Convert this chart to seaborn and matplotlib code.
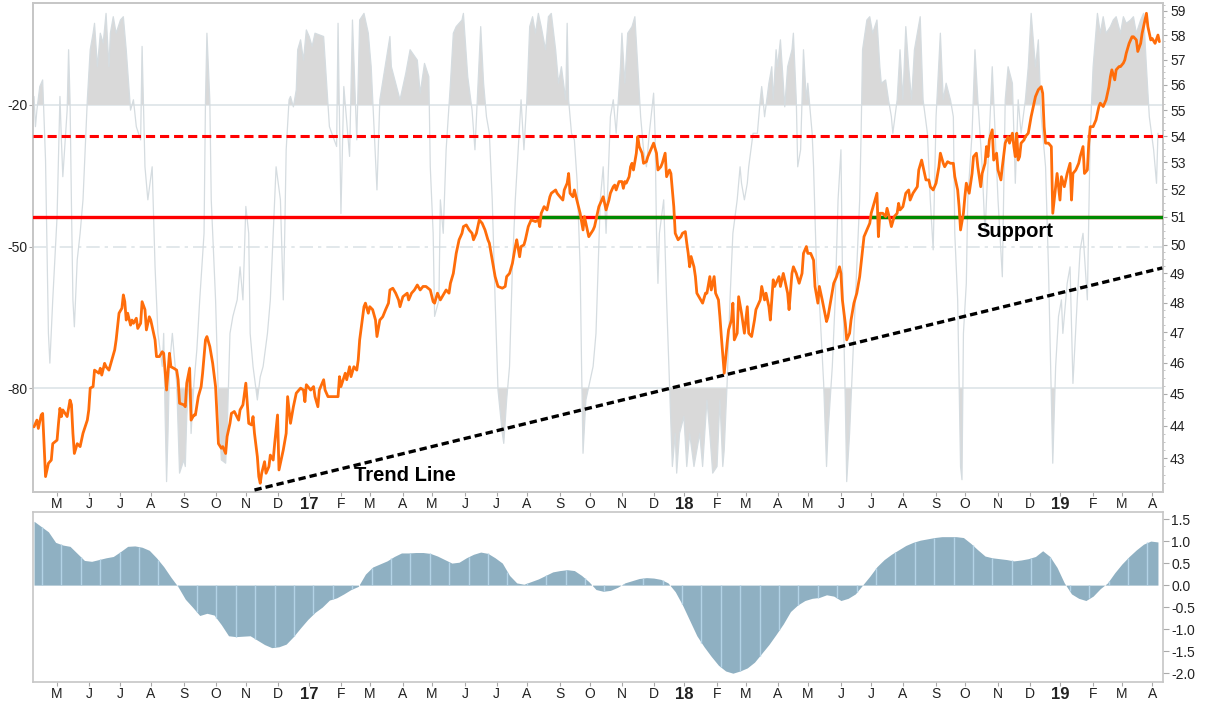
import numpy as np
import pandas as pd
import matplotlib
matplotlib.use("Agg")
import matplotlib.pyplot as plt
from matplotlib.ticker import FixedLocator, FixedFormatter, NullFormatter
import seaborn as sns

# ---- data ----
# trading sessions are counted from the first session, 2016-04-08
first_session = "2016-04-08"

# (session number, close)
price_points = [
    (0, 43.96), (2, 44.17), (3, 43.91), (5, 44.33), (6, 44.38), (8, 42.44), (10, 42.84), (12, 42.94), (13, 43.44), (16, 43.55),
    (17, 44.07), (18, 44.54), (19, 44.28), (20, 44.49), (23, 44.28), (25, 44.80), (26, 44.65), (27, 43.76), (28, 43.14), (30, 43.44),
    (32, 43.35), (34, 43.76), (37, 44.17), (38, 44.49), (39, 45.18), (41, 45.23), (42, 45.76), (45, 45.66), (46, 45.82), (47, 45.60),
    (49, 45.98), (50, 45.87), (52, 45.76), (54, 46.09), (56, 46.42), (57, 46.75), (59, 47.64), (61, 47.81), (62, 48.26), (63, 48.03),
    (64, 47.41), (65, 47.64), (67, 47.24), (68, 47.41), (69, 47.30), (71, 47.47), (72, 47.13), (74, 47.30), (75, 48.03), (77, 47.76),
    (78, 47.08), (80, 47.52), (81, 47.41), (83, 46.97), (84, 46.75), (85, 46.20), (87, 46.20), (89, 46.36), (90, 46.31), (92, 45.12),
    (94, 46.31), (95, 45.87), (97, 45.82), (99, 45.76), (100, 45.45), (101, 44.70), (104, 44.65), (105, 44.59), (106, 45.34), (108, 45.82),
    (109, 44.17), (111, 44.33), (112, 44.33), (114, 44.91), (116, 45.23), (117, 45.66), (119, 46.75), (120, 46.86), (122, 46.53), (124, 45.98),
    (126, 45.23), (128, 43.44), (130, 43.30), (131, 43.35), (133, 43.14), (134, 43.66), (136, 44.07), (137, 44.38), (139, 44.44), (142, 44.17),
    (143, 44.49), (145, 44.65), (147, 45.34), (149, 44.07), (151, 44.02), (152, 44.28), (153, 43.76), (155, 43.04), (156, 42.44), (157, 42.24),
    (158, 42.54), (160, 42.89), (161, 42.54), (163, 42.74), (164, 43.09), (166, 42.94), (167, 43.44), (169, 44.33), (170, 42.64), (172, 43.04),
    (173, 43.25), (175, 43.76), (176, 44.91), (178, 44.07), (180, 44.59), (182, 45.02), (185, 45.18), (187, 45.12), (188, 44.75), (189, 45.29),
    (192, 45.12), (194, 45.23), (195, 44.91), (197, 44.59), (198, 45.12), (201, 45.45), (202, 45.12), (204, 44.91), (208, 44.91), (211, 44.91),
    (212, 45.55), (213, 45.23), (216, 45.66), (217, 45.45), (219, 45.87), (220, 45.55), (222, 45.87), (224, 45.76), (225, 46.09), (226, 46.75),
    (229, 47.86), (230, 47.98), (232, 47.64), (233, 47.86), (235, 47.76), (237, 47.41), (238, 46.86), (240, 47.41), (242, 47.52), (244, 47.76),
    (246, 47.98), (247, 48.43), (249, 48.49), (251, 48.32), (253, 48.09), (254, 47.86), (256, 48.20), (259, 48.32), (260, 48.09), (262, 48.32),
    (264, 48.43), (266, 48.60), (268, 48.43), (270, 48.55), (272, 48.55), (275, 48.43), (277, 48.03), (278, 47.98), (280, 48.32), (282, 48.09),
    (284, 48.26), (286, 48.43), (288, 48.32), (289, 48.66), (291, 49.00), (293, 49.70), (295, 50.18), (297, 50.41), (298, 50.65), (300, 50.71),
    (302, 50.53), (304, 50.41), (305, 50.18), (307, 50.41), (309, 50.89), (311, 50.77), (313, 50.53), (315, 50.18), (316, 50.06), (318, 49.46),
    (320, 48.89), (322, 48.55), (325, 48.49), (327, 48.55), (328, 48.89), (330, 49.00), (332, 49.35), (334, 49.94), (335, 50.18), (337, 49.58),
    (338, 49.94), (340, 50.00), (341, 50.18), (343, 50.65), (345, 50.89), (348, 50.83), (350, 50.89), (351, 50.65), (352, 51.13), (354, 51.37),
    (356, 51.25), (358, 51.73), (359, 51.86), (362, 51.98), (363, 51.86), (365, 51.73), (367, 51.61), (368, 51.98), (370, 52.23), (371, 52.59),
    (372, 51.86), (374, 51.73), (375, 51.98), (377, 51.55), (379, 51.13), (381, 50.53), (382, 51.01), (384, 50.53), (385, 50.29), (388, 50.53),
    (389, 50.65), (390, 50.89), (392, 51.37), (394, 51.61), (395, 51.73), (397, 51.25), (399, 51.61), (400, 51.86), (402, 52.10), (403, 52.16),
    (404, 51.98), (406, 52.29), (408, 52.29), (409, 52.04), (410, 52.29), (411, 52.23), (413, 52.47), (414, 52.84), (415, 52.97), (416, 52.72),
    (418, 53.35), (419, 53.98), (420, 53.60), (422, 53.35), (423, 52.97), (425, 53.03), (426, 53.22), (429, 53.60), (430, 53.73), (432, 53.35),
    (433, 52.72), (435, 52.84), (436, 52.97), (438, 53.35), (439, 52.47), (441, 52.72), (442, 52.59), (444, 51.37), (445, 50.41), (447, 50.18),
    (449, 50.29), (450, 50.41), (452, 50.47), (453, 50.06), (454, 49.70), (455, 49.23), (456, 49.59), (458, 49.23), (459, 48.89), (460, 48.32),
    (462, 48.15), (464, 47.98), (466, 48.32), (467, 48.32), (469, 48.89), (470, 48.43), (472, 48.89), (473, 48.32), (475, 48.09), (476, 47.52),
    (477, 46.86), (479, 45.66), (481, 46.64), (482, 47.08), (484, 47.41), (485, 47.98), (486, 46.75), (488, 46.97), (489, 48.20), (491, 47.64),
    (493, 46.97), (495, 47.86), (496, 46.97), (498, 46.86), (500, 47.41), (501, 47.76), (504, 48.09), (505, 48.55), (507, 48.09), (508, 48.32),
    (510, 47.86), (511, 47.41), (513, 48.78), (514, 48.55), (517, 48.89), (518, 48.55), (520, 49.00), (521, 48.78), (523, 48.32), (524, 47.76),
    (526, 49.00), (527, 49.23), (529, 49.00), (531, 48.66), (533, 49.00), (534, 49.70), (536, 49.94), (537, 49.70), (539, 49.70), (541, 49.46),
    (542, 48.55), (544, 47.98), (545, 48.55), (547, 48.09), (550, 47.36), (551, 47.52), (553, 48.09), (555, 48.66), (557, 48.89), (559, 49.23),
    (560, 49.00), (561, 48.09), (563, 47.30), (564, 46.75), (566, 46.97), (567, 47.41), (569, 47.98), (571, 48.32), (573, 48.89), (574, 49.35),
    (576, 50.29), (578, 50.53), (580, 50.77), (581, 51.13), (583, 51.49), (585, 51.86), (586, 50.29), (587, 51.13), (589, 51.13), (591, 51.01),
    (592, 51.31), (594, 50.89), (595, 50.65), (597, 51.01), (599, 51.13), (600, 51.49), (601, 51.25), (603, 51.37), (605, 51.86), (607, 51.98),
    (608, 51.61), (610, 51.86), (613, 52.10), (614, 52.72), (616, 53.09), (617, 52.84), (619, 52.35), (621, 52.35), (622, 52.10), (624, 51.98),
    (626, 52.23), (628, 52.84), (629, 53.35), (631, 52.97), (632, 52.84), (634, 53.03), (636, 52.97), (638, 52.97), (639, 52.47), (641, 51.98),
    (642, 51.37), (643, 50.53), (645, 51.13), (646, 51.73), (647, 52.23), (649, 51.86), (651, 52.59), (652, 53.22), (654, 53.35), (655, 52.84),
    (657, 52.10), (658, 52.59), (660, 52.97), (661, 53.60), (662, 53.22), (663, 53.85), (665, 54.24), (666, 53.09), (668, 53.35), (669, 52.72),
    (671, 52.35), (672, 52.84), (674, 53.73), (676, 53.98), (677, 53.73), (679, 54.11), (680, 53.60), (681, 53.22), (682, 54.11), (683, 53.09),
    (684, 53.22), (685, 53.73), (687, 53.85), (688, 53.98), (690, 54.11), (692, 54.75), (694, 55.27), (695, 55.53), (697, 55.80), (699, 55.92),
    (700, 55.66), (701, 54.36), (702, 53.73), (704, 53.73), (706, 53.60), (707, 51.13), (709, 52.10), (710, 52.59), (712, 51.61), (713, 52.47),
    (715, 52.10), (717, 52.59), (719, 52.97), (720, 51.61), (721, 52.59), (723, 52.72), (725, 52.97), (726, 53.22), (728, 53.60), (729, 52.59),
    (731, 52.72), (732, 53.73), (733, 54.36), (735, 54.36), (737, 54.62), (739, 55.14), (740, 55.27), (742, 55.14), (744, 55.40), (746, 55.92),
    (747, 56.32), (748, 56.59), (750, 56.19), (751, 56.59), (753, 56.72), (754, 56.72), (756, 56.86), (757, 56.99), (758, 57.26), (760, 57.66),
    (762, 57.93), (763, 57.93), (765, 57.80), (766, 57.33), (768, 57.66), (769, 58.07), (771, 58.62), (772, 58.90), (773, 58.35), (775, 57.80),
    (776, 57.86), (778, 57.66), (780, 58.00), (781, 57.73),
]

# (session number, Williams %R)
williams_points = [
    (0, -18.2), (1, -24.6), (2, -21.1), (4, -16.1), (6, -14.7), (8, -31.7), (10, -68.4), (11, -74.7), (13, -61.3), (16, -43.7),
    (18, -18.2), (19, -27.4), (20, -35.2), (22, -26.0), (23, -21.1), (24, -8.3), (25, -18.9), (26, -41.5), (27, -61.3), (28, -67.0),
    (30, -52.8), (32, -47.2), (34, -40.1), (37, -18.9), (39, -8.3), (41, -4.8), (42, -2.7), (44, -11.9), (46, -4.8), (48, -6.9),
    (50, -0.6), (52, -11.9), (53, -4.8), (55, -1.3), (57, -4.8), (60, -2.0), (62, -1.3), (64, -8.3), (67, -21.1), (69, -18.9),
    (71, -24.6), (74, -27.4), (75, -7.6), (76, -20.4), (77, -33.1), (79, -40.1), (82, -33.1), (83, -43.7), (84, -54.3), (86, -68.4),
    (89, -75.4), (90, -68.4), (91, -86.0), (92, -99.8), (93, -89.6), (94, -75.4), (96, -68.4), (97, -71.9), (99, -79.0), (101, -98.0),
    (104, -95.2), (105, -96.6), (106, -86.0), (108, -75.4), (109, -89.6), (111, -79.0), (113, -71.9), (115, -61.3), (118, -47.2), (119, -18.9),
    (120, -4.8), (122, -18.9), (123, -40.1), (126, -61.3), (128, -82.5), (130, -95.2), (133, -95.9), (134, -89.6), (136, -68.4), (138, -64.8),
    (141, -61.3), (143, -54.3), (145, -61.3), (147, -41.5), (149, -47.2), (150, -68.4), (152, -75.4), (155, -82.5), (157, -77.6), (159, -75.4),
    (162, -68.4), (164, -61.3), (166, -47.2), (168, -33.1), (171, -40.1), (173, -61.3), (174, -47.2), (175, -29.5), (177, -18.9), (178, -18.2),
    (180, -20.4), (182, -16.8), (183, -8.3), (185, -6.2), (187, -10.5), (189, -4.1), (191, -5.5), (193, -7.6), (195, -4.8), (201, -5.5),
    (205, -24.6), (210, -28.8), (211, -2.7), (213, -43.0), (215, -16.1), (219, -30.9), (221, -2.0), (224, -27.4), (226, -2.0), (229, -0.6),
    (232, -4.8), (234, -11.9), (238, -38.0), (240, -18.9), (247, -5.5), (248, -11.9), (251, -15.4), (254, -18.9), (258, -13.3), (261, -8.3),
    (266, -10.5), (268, -17.5), (271, -11.2), (274, -14.0), (275, -33.1), (277, -47.2), (278, -64.8), (281, -61.3), (282, -40.1), (284, -47.2),
    (286, -29.5), (289, -15.4), (291, -4.8), (293, -3.4), (297, -2.0), (298, -0.6), (301, -14.0), (304, -21.1), (306, -29.5), (310, -3.4),
    (312, -15.4), (314, -22.5), (316, -26.0), (318, -40.1), (320, -61.3), (322, -80.4), (325, -89.6), (326, -91.7), (328, -82.5), (330, -75.4),
    (332, -54.3), (334, -40.1), (336, -29.5), (338, -18.9), (340, -29.5), (342, -18.9), (344, -3.4), (346, -1.3), (348, -4.8), (350, -0.6),
    (352, -3.4), (355, -8.3), (357, -1.3), (359, -0.6), (362, -8.3), (364, -15.4), (366, -11.9), (369, -18.9), (370, -2.7), (371, -18.9),
    (373, -26.0), (375, -27.4), (377, -36.6), (379, -54.3), (380, -75.4), (381, -93.8), (383, -82.5), (385, -79.7), (388, -75.4), (390, -68.4),
    (393, -40.1), (395, -33.1), (397, -47.2), (400, -22.5), (402, -18.9), (404, -26.0), (407, -11.9), (408, -4.8), (410, -15.4), (412, -4.8),
    (415, -3.4), (417, -1.3), (419, -11.9), (421, -22.5), (423, -29.5), (425, -33.1), (427, -26.0), (430, -17.5), (431, -26.0), (432, -47.2),
    (433, -57.8), (434, -47.2), (437, -40.1), (439, -61.3), (441, -79.0), (443, -96.6), (445, -89.6), (446, -98.0), (448, -89.6), (451, -86.0),
    (453, -96.6), (455, -89.6), (458, -96.6), (460, -93.1), (462, -89.6), (464, -96.6), (467, -82.5), (469, -89.6), (471, -98.0), (474, -96.6),
    (476, -82.5), (478, -96.6), (479, -93.1), (481, -79.0), (483, -61.3), (485, -47.2), (488, -40.1), (490, -33.1), (491, -36.6), (493, -40.1),
    (495, -36.6), (496, -33.1), (499, -26.0), (502, -26.0), (504, -18.9), (505, -16.1), (506, -18.9), (507, -22.5), (510, -15.4), (512, -11.9),
    (513, -18.9), (515, -8.3), (516, -11.9), (518, -6.2), (520, -15.4), (521, -20.4), (523, -11.9), (526, -8.3), (527, -4.8), (529, -18.9),
    (530, -33.1), (532, -29.5), (534, -8.3), (536, -18.9), (537, -15.4), (540, -26.0), (541, -33.1), (543, -54.3), (545, -61.3), (548, -79.0),
    (550, -96.6), (551, -89.6), (554, -75.4), (556, -61.3), (558, -40.1), (560, -29.5), (561, -54.3), (563, -82.5), (564, -99.8), (566, -89.6),
    (567, -82.5), (569, -68.4), (571, -54.3), (573, -40.1), (574, -26.0), (575, -8.3), (578, -2.0), (580, -1.3), (582, -4.8), (585, -2.0),
    (587, -11.9), (588, -15.4), (591, -14.7), (593, -18.9), (595, -22.5), (596, -26.0), (599, -18.9), (601, -8.3), (603, -18.9), (605, -3.4),
    (607, -11.9), (609, -18.9), (611, -8.3), (615, -1.3), (617, -18.9), (620, -26.0), (622, -40.1), (624, -50.7), (626, -22.5), (629, -4.8),
    (631, -18.9), (633, -15.4), (636, -18.9), (638, -22.5), (639, -47.2), (641, -61.3), (643, -96.6), (644, -99.4), (645, -68.4), (647, -57.8),
    (648, -40.1), (651, -26.0), (653, -8.3), (655, -18.9), (658, -33.1), (660, -47.2), (662, -33.1), (665, -11.9), (667, -26.0), (669, -40.1),
    (672, -56.4), (674, -18.9), (676, -11.9), (679, -15.4), (681, -36.6), (683, -18.9), (685, -26.0), (688, -18.9), (690, -11.9), (692, -0.6),
    (695, -11.9), (697, -6.2), (699, -22.5), (702, -33.1), (704, -54.3), (706, -82.5), (707, -95.9), (709, -75.4), (711, -64.8), (713, -61.3),
    (714, -68.4), (717, -57.8), (719, -54.3), (721, -79.0), (724, -61.3), (726, -50.7), (728, -47.2), (731, -61.3), (733, -26.0), (735, -11.9),
    (738, -0.6), (740, -4.8), (742, -1.3), (744, -4.8), (747, -3.4), (749, -2.0), (751, -1.3), (754, -4.8), (756, -1.3), (758, -2.7),
    (761, -2.0), (763, -1.3), (765, -4.8), (768, -2.0), (770, -0.6), (772, -11.9), (774, -22.5), (777, -29.5), (779, -36.6), (780, -26.0),
]

# weekly (Friday) histogram readings from 2016-04-08
histogram = [
    1.45, 1.33, 1.21, 0.97, 0.91, 0.88, 0.72, 0.56, 0.54, 0.58,
    0.62, 0.65, 0.76, 0.88, 0.89, 0.86, 0.79, 0.62, 0.42, 0.18,
    -0.04, -0.32, -0.50, -0.69, -0.64, -0.68, -0.90, -1.15, -1.17, -1.16,
    -1.15, -1.25, -1.35, -1.42, -1.40, -1.34, -1.17, -0.97, -0.78, -0.62,
    -0.50, -0.34, -0.29, -0.20, -0.10, -0.03, 0.25, 0.41, 0.48, 0.55,
    0.65, 0.73, 0.73, 0.74, 0.74, 0.72, 0.66, 0.58, 0.50, 0.52,
    0.62, 0.70, 0.75, 0.72, 0.62, 0.50, 0.22, 0.05, 0.02, 0.08,
    0.14, 0.22, 0.30, 0.33, 0.35, 0.33, 0.22, 0.08, -0.10, -0.14,
    -0.12, -0.05, 0.05, 0.10, 0.15, 0.17, 0.16, 0.13, 0.05, -0.15,
    -0.45, -0.80, -1.15, -1.40, -1.62, -1.82, -1.95, -2.00, -1.95, -1.88,
    -1.75, -1.55, -1.35, -1.12, -0.88, -0.60, -0.45, -0.35, -0.30, -0.28,
    -0.22, -0.25, -0.35, -0.30, -0.20, 0.00, 0.20, 0.42, 0.58, 0.70,
    0.80, 0.90, 0.97, 1.02, 1.05, 1.08, 1.10, 1.10, 1.10, 1.08,
    0.95, 0.80, 0.66, 0.62, 0.60, 0.58, 0.55, 0.57, 0.60, 0.65,
    0.78, 0.65, 0.40, 0.05, -0.20, -0.30, -0.35, -0.25, -0.08, 0.05,
    0.28, 0.48, 0.65, 0.80, 0.93, 1.00, 0.98,
]

support_level = 51
resistance_level = 54
trend_dates = ["2016-11-09", "2019-04-10"]
trend_values = [42.04, 49.19]

osc_ticks = [-20, -50, -80]
price_ticks = list(range(43, 60))
hist_ticks = [1.5, 1.0, 0.5, 0.0, -0.5, -1.0, -1.5, -2.0]

# ---- style ----
sns.set_style("white")
plt.rcParams["font.family"] = ["Liberation Sans", "DejaVu Sans"]

ORANGE = "#ff6d0a"
OSC_LINE = "#d5dce0"
OSC_FILL = "#d9d9d9"
GRID = "#dde4e7"
SPINE = "#c6c6c6"
AREA = "#8fb0c2"
AREA_LINE = "#b3d3e6"
TXT = "#222222"

sessions = pd.bdate_range(first_session, periods=800)

px = np.array([p[0] for p in price_points], dtype=float)
py = np.array([p[1] for p in price_points])
wx = np.array([p[0] for p in williams_points], dtype=float)
wy = np.array([p[1] for p in williams_points])
week_dates = pd.date_range(first_session, periods=len(histogram), freq="W-FRI")
hx = sessions.get_indexer(week_dates).astype(float)
hy = np.array(histogram)

def session_pos(d):
    return float(sessions.searchsorted(pd.Timestamp(d)))

x_min, x_max = -0.7, 783.5

fig = plt.figure(figsize=(12.17, 7.02), dpi=100)
W, H = 1217, 702
ax = fig.add_axes([33 / W, 210 / H, 1130 / W, 489 / H])
ax_b = fig.add_axes([33 / W, 20 / H, 1130 / W, 170 / H], sharex=ax)
ax_r = ax.twinx()

# ---- oscillator (left scale) ----
ax.axhline(-20, color=GRID, lw=1.2, zorder=0)
ax.axhline(-80, color=GRID, lw=1.2, zorder=0)
ax.axhline(-50, color=GRID, lw=1.2, ls=(0, (8, 3, 2, 3)), zorder=0)
ax.fill_between(wx, -20, wy, where=wy > -20, interpolate=True,
                color=OSC_FILL, lw=0, zorder=1)
ax.fill_between(wx, -80, wy, where=wy < -80, interpolate=True,
                color=OSC_FILL, lw=0, zorder=1)
sns.lineplot(x=wx, y=wy, ax=ax, color=OSC_LINE, lw=0.9, zorder=2)
ax.set_ylim(-102.0, 1.6)
ax.yaxis.set_major_locator(FixedLocator(osc_ticks))
ax.yaxis.set_major_formatter(FixedFormatter([str(t) for t in osc_ticks]))
ax.set_ylabel("")

# ---- price (right, log scale) ----
ax_r.set_yscale("log")
ax_r.set_ylim(41.98, 59.33)

# support line: green while price holds above it, red otherwise
grid_x = np.arange(int(np.floor(x_min)), int(np.ceil(x_max)) + 1)
held = np.interp(grid_x, px, py) >= support_level
ax_r.plot([x_min, x_max], [support_level] * 2, color="#ff0000", lw=2.4, zorder=3)
ax_r.plot(grid_x, np.where(held, support_level, np.nan), color="#008a00",
          lw=2.4, zorder=3, solid_capstyle="butt")
ax_r.plot([x_min, x_max], [resistance_level] * 2, color="#ff0000", lw=2.2,
          ls=(0, (3, 1.6)), zorder=3)

tx = [session_pos(d) for d in trend_dates]
ax_r.plot(tx, trend_values, color="black", lw=2.4, ls=(0, (2.2, 1.2)), zorder=3)

sns.lineplot(x=px, y=py, ax=ax_r, color=ORANGE, lw=2.0, zorder=4)
ax_r.set_ylabel("")

ax_r.yaxis.set_major_locator(FixedLocator(price_ticks))
ax_r.yaxis.set_major_formatter(FixedFormatter([str(t) for t in price_ticks]))
minor = [v for v in np.arange(42.0, 59.31, 0.25) if abs(v - round(v)) > 1e-6]
ax_r.yaxis.set_minor_locator(FixedLocator(minor))
ax_r.yaxis.set_minor_formatter(NullFormatter())

ax_r.text(session_pos("2017-02-14"), 42.46, "Trend Line", fontsize=14.5,
          fontweight="bold", color="black", ha="left", va="center", zorder=5)
ax_r.text(session_pos("2018-10-11"), 50.46, "Support", fontsize=14.5,
          fontweight="bold", color="black", ha="left", va="center", zorder=5)

# ---- lower histogram panel ----
ax_b.fill_between(hx, 0, hy, color=AREA, lw=0, zorder=1)
tex_x = np.arange(5.5, hx[-1], 13.46)
ax_b.vlines(tex_x, 0, np.interp(tex_x, hx, hy), color=AREA_LINE, lw=1.0, zorder=2)
ax_b.set_ylim(-2.2, 1.66)
ax_b.yaxis.tick_right()
ax_b.yaxis.set_major_locator(FixedLocator(hist_ticks))
ax_b.yaxis.set_major_formatter(FixedFormatter([f"{t:.1f}" for t in hist_ticks]))

# ---- shared month axis ----
month_starts = pd.date_range("2016-05-01", "2019-04-01", freq="MS")
tick_pos = sessions.searchsorted(month_starts)
tick_lab = [f"{d:%y}" if d.month == 1 else "JFMAMJJASOND"[d.month - 1]
            for d in month_starts]
ax.set_xlim(x_min, x_max)
for a in (ax, ax_b):
    a.xaxis.set_major_locator(FixedLocator(tick_pos))
    a.xaxis.set_major_formatter(FixedFormatter(tick_lab))
    a.tick_params(axis="x", which="major", bottom=True, length=3, color="#aaaaaa",
                  labelsize=10, labelcolor=TXT, pad=0.5, labelbottom=True)
    for lab in a.get_xticklabels():
        if lab.get_text().isdigit():
            lab.set_fontweight("bold")
            lab.set_fontsize(12)

ax.tick_params(axis="y", which="major", left=True, length=3, color="#aaaaaa",
               labelsize=10, labelcolor=TXT, pad=1)
ax_r.tick_params(axis="y", which="major", right=True, length=3, color="#aaaaaa",
                 labelsize=10, labelcolor=TXT, pad=2)
ax_r.tick_params(axis="y", which="minor", right=True, length=1.5, color="#bbbbbb")
ax_b.tick_params(axis="y", which="major", right=True, left=False, length=4,
                 color="#aaaaaa", labelsize=10, labelcolor=TXT, pad=2)

for a in (ax, ax_r, ax_b):
    for s in a.spines.values():
        s.set_color(SPINE)
        s.set_linewidth(1.2)
    a.set_xlabel("")
ax_b.set_ylabel("")

fig.savefig("out.png", dpi=100)
